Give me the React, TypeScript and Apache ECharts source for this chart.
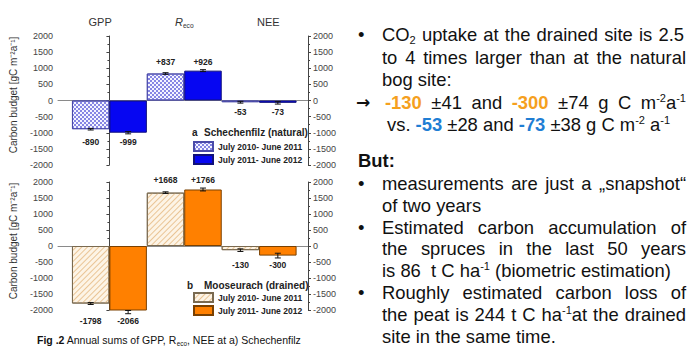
import React, { useEffect, useRef } from 'react';
import * as echarts from 'echarts';

// ---------------- data ----------------
const categories = ['GPP', 'Reco', 'NEE'];
const periodNames = ['July 2010- June 2011', 'July 2011- June 2012'];
const yTickMin = -2000;
const yTickMax = 2000;
const yTickStep = 500;

const naturalY1 = [-890, 837, -53];
const naturalY2 = [-999, 926, -73];
const naturalY1Err = [25, 25, 28];
const naturalY2Err = [35, 30, 38];

const drainedY1 = [-1798, 1668, -130];
const drainedY2 = [-2066, 1766, -300];
const drainedY1Err = [30, 25, 41];
const drainedY2Err = [50, 45, 74];

// ---------------- styles ----------------
const FONT = "'Liberation Sans', Arial, Helvetica, sans-serif";
const ORANGE = '#f5a01e';
const BLUE = '#1f7ed4';
const X_MIN = -0.687;
const X_MAX = 2.653;
const RIGHT_SIZE = 18.4;

let measureCtx: CanvasRenderingContext2D | null = null;
function measure(text: string, font: string): number {
  if (!measureCtx) measureCtx = document.createElement('canvas').getContext('2d');
  measureCtx!.font = font;
  return measureCtx!.measureText(text).width;
}

type Tok = { text: string; kind: string };
function parse(s: string): Tok[] {
  const out: Tok[] = [];
  let buf = '';
  for (let i = 0; i < s.length; i++) {
    const c = s[i];
    if ('^_OB*I'.includes(c) && s[i + 1] === '{') {
      if (buf) { out.push({ text: buf, kind: 'n' }); buf = ''; }
      const j = s.indexOf('}', i + 2);
      out.push({ text: s.slice(i + 2, j), kind: c });
      i = j;
    } else buf += c;
  }
  if (buf) out.push({ text: buf, kind: 'n' });
  return out;
}

function tokStyle(kind: string, base: number, bold: boolean, color: string) {
  let size = base, dy = 0, weight = bold ? 'bold' : 'normal', fill = color, fstyle = 'normal';
  if (kind === '^') { size = base * 0.6; dy = -base * 0.24; }
  if (kind === '_') { size = base * 0.6; dy = base * 0.3; }
  if (kind === 'O') { weight = 'bold'; fill = ORANGE; }
  if (kind === 'B') { weight = 'bold'; fill = BLUE; }
  if (kind === '*') weight = 'bold';
  if (kind === 'I') fstyle = 'italic';
  return { dy, fill, font: `${fstyle} ${weight} ${size}px ${FONT}` };
}

function textEl(text: string, x: number, y: number, font: string, fill: string) {
  return {
    type: 'text', x, y, silent: true,
    style: { text, font, fill, align: 'left', verticalAlign: 'middle', textAlign: 'left', textVerticalAlign: 'middle' },
  };
}

type LineSpec = { t: string; x: number; y: number; xe?: number; size?: number; bold?: boolean; color?: string };
function layoutLine(spec: LineSpec): any[] {
  const base = spec.size ?? RIGHT_SIZE;
  const color = spec.color ?? '#111';
  const bold = !!spec.bold;
  const toks = parse(spec.t);
  const els: any[] = [];
  if (spec.xe === undefined) {
    let x = spec.x;
    toks.forEach((tk) => {
      const st = tokStyle(tk.kind, base, bold, color);
      els.push(textEl(tk.text, x, spec.y + st.dy, st.font, st.fill));
      x += measure(tk.text, st.font);
    });
    return els;
  }
  // justified
  const words: Tok[][] = [];
  let cur: Tok[] = [];
  toks.forEach((tk) => {
    if (tk.kind !== 'n') { cur.push(tk); return; }
    const parts = tk.text.split(' ');
    parts.forEach((p, j) => {
      if (j > 0) { if (cur.length) words.push(cur); cur = []; }
      if (p) cur.push({ text: p, kind: 'n' });
    });
  });
  if (cur.length) words.push(cur);
  const widths = words.map((w) => w.reduce((s, tk) => s + measure(tk.text, tokStyle(tk.kind, base, bold, color).font), 0));
  const total = widths.reduce((a, b) => a + b, 0);
  const gap = words.length > 1 ? (spec.xe - spec.x - total) / (words.length - 1) : 0;
  let x = spec.x;
  words.forEach((w, wi) => {
    let xx = x;
    w.forEach((tk) => {
      const st = tokStyle(tk.kind, base, bold, color);
      els.push(textEl(tk.text, xx, spec.y + st.dy, st.font, st.fill));
      xx += measure(tk.text, st.font);
    });
    x += widths[wi] + gap;
  });
  return els;
}

const rightLines: LineSpec[] = [
  { t: 'CO_{2} uptake at the drained site is 2.5', x: 382, xe: 684, y: 34 },
  { t: 'to 4 times larger than at the natural', x: 382, xe: 686, y: 57 },
  { t: 'bog site:', x: 382, y: 79 },
  { t: 'O{-130} ±41 and O{-300} ±74 g C m^{-2}a^{-1}', x: 385, xe: 686, y: 102 },
  { t: 'vs. B{-53} ±28 and B{-73} ±38 g C m^{-2} a^{-1}', x: 387, y: 124 },
  { t: '*{But:}', x: 358, y: 160 },
  { t: 'measurements are just a „snapshot“', x: 382, xe: 686, y: 183 },
  { t: 'of two years', x: 382, y: 205 },
  { t: 'Estimated carbon accumulation of', x: 382, xe: 686, y: 227 },
  { t: 'the spruces in the last 50 years', x: 382, xe: 686, y: 248 },
  { t: 'is 86  t C ha^{-1} (biometric estimation)', x: 382, y: 270 },
  { t: 'Roughly estimated carbon loss of', x: 382, xe: 686, y: 292 },
  { t: 'the peat is 244 t C ha^{-1}at the drained', x: 382, xe: 686, y: 314 },
  { t: 'site in the same time.', x: 382, y: 336 },
];
const bulletYs = [34, 183, 227, 292];

const chartTexts: LineSpec[] = [
  { t: 'GPP', x: 88.5, y: 22, size: 11, color: '#333' },
  { t: 'I{R}_{eco}', x: 175, y: 22, size: 11, color: '#333' },
  { t: 'NEE', x: 257, y: 22, size: 11, color: '#333' },
  { t: 'a', x: 192, y: 132, size: 10, bold: true, color: '#222' },
  { t: 'Schechenfilz (natural)', x: 204, y: 132, size: 10, bold: true, color: '#222' },
  { t: 'b', x: 187, y: 285, size: 10, bold: true, color: '#222' },
  { t: 'Mooseurach (drained)', x: 204, y: 285, size: 10, bold: true, color: '#222' },
  { t: '*{Fig .2} Annual sums of GPP, R_{eco}, NEE at a) Schechenfilz', x: 37, y: 340, size: 10.5, color: '#111' },
];

const panels = [
  {
    key: 'a', top: 36, height: 129, legendTop: 141,
    v1: naturalY1, v2: naturalY2, e1: naturalY1Err, e2: naturalY2Err, axisNameY: 95,
    s1: {
      color: '#f4f4ff', borderColor: '#4a4aa8', borderWidth: 1,
      decal: { symbol: 'rect', symbolSize: 1, color: '#8686e4', dashArrayX: [[2, 2], [0, 2, 2, 0]], dashArrayY: [2, 0] },
    },
    s2: { color: '#0606f2', borderColor: '#10107a', borderWidth: 1 },
  },
  {
    key: 'b', top: 182, height: 128, legendTop: 292,
    v1: drainedY1, v2: drainedY2, e1: drainedY1Err, e2: drainedY2Err, axisNameY: 241,
    s1: {
      color: '#fdf4e6', borderColor: '#7a6a50', borderWidth: 1,
      decal: { symbol: 'rect', symbolSize: 1, color: '#eac596', dashArrayX: [1, 0], dashArrayY: [0.9, 2.4], rotation: -Math.PI / 4 },
    },
    s2: { color: '#ff8000', borderColor: '#7a4000', borderWidth: 1 },
  },
];

function errorRender(params: any, api: any) {
  const i = api.value(0);
  const children: any[] = [];
  const items = [[1, 2, -0.25], [3, 4, 0.25]];
  items.forEach(([vi, ei, off]) => {
    const v = api.value(vi), e = api.value(ei);
    const p1 = api.coord([i + off, v + e]);
    const p2 = api.coord([i + off, v - e]);
    const x = p1[0];
    const st = { stroke: '#111', lineWidth: 1 };
    children.push({ type: 'line', shape: { x1: x, y1: p1[1], x2: x, y2: p2[1] }, style: st });
    children.push({ type: 'line', shape: { x1: x - 3, y1: p1[1], x2: x + 3, y2: p1[1] }, style: st });
    children.push({ type: 'line', shape: { x1: x - 3, y1: p2[1], x2: x + 3, y2: p2[1] }, style: st });
  });
  const a = api.value(1), b = api.value(3);
  const ext = Math.abs(a) > Math.abs(b) ? a : b;
  const yExt = api.coord([i, ext])[1];
  const ly = ext > 0 ? yExt - 9 : yExt + 9;
  items.forEach(([vi, , off]) => {
    const v = api.value(vi);
    const x = api.coord([i + off, 0])[0];
    children.push({
      type: 'text',
      style: {
        text: (v > 0 ? '+' : '') + v, x, y: ly, font: `bold 8.5px ${FONT}`, fill: '#222',
        align: 'center', verticalAlign: 'middle', textAlign: 'center', textVerticalAlign: 'middle',
      },
    });
  });
  return { type: 'group', children };
}

function buildOption() {
  const grid = panels.map((p) => ({ left: 58, width: 250, top: p.top, height: p.height }));
  const xAxis = panels.map((p, k) => ({
    type: 'value', gridIndex: k, min: X_MIN, max: X_MAX,
    axisLine: { show: true, onZero: true, lineStyle: { color: '#8a8a8a', width: 1 } },
    axisTick: { show: false }, axisLabel: { show: false }, splitLine: { show: false },
  }));
  const yAxis: any[] = [];
  panels.forEach((p, k) => {
    ['left', 'right'].forEach((pos) => {
      yAxis.push({
        type: 'value', gridIndex: k, position: pos, min: yTickMin, max: yTickMax, interval: yTickStep,
        axisLine: { show: true, lineStyle: { color: '#444', width: 1 } },
        axisTick: { show: true, length: 3, lineStyle: { color: '#444' } },
        minorTick: { show: true, splitNumber: 2, length: 2, lineStyle: { color: '#444' } },
        axisLabel: { fontSize: 9, color: '#444', margin: 5, fontFamily: FONT, formatter: (v: number) => String(v) },
        splitLine: { show: false },
      });
    });
  });
  const series: any[] = [];
  panels.forEach((p, k) => {
    series.push({
      type: 'bar', name: p.key + '1', xAxisIndex: k, yAxisIndex: 2 * k,
      data: p.v1.map((v, i) => [i - 0.25, v]), barWidth: 37.5, barGap: '-100%', itemStyle: p.s1,
    });
    series.push({
      type: 'bar', name: p.key + '2', xAxisIndex: k, yAxisIndex: 2 * k,
      data: p.v2.map((v, i) => [i + 0.25, v]), barWidth: 37.5, barGap: '-100%', itemStyle: p.s2,
    });
    series.push({
      type: 'custom', name: p.key + 'err', xAxisIndex: k, yAxisIndex: 2 * k, clip: false, z: 5,
      encode: { x: 0, y: 1 },
      data: categories.map((c, i) => [i, p.v1[i], p.e1[i], p.v2[i], p.e2[i]]),
      renderItem: errorRender,
    });
  });
  const legend = panels.map((p) => ({
    data: [p.key + '1', p.key + '2'],
    formatter: (n: string) => periodNames[Number(n.slice(1)) - 1],
    orient: 'vertical', left: 193, top: p.legendTop, itemWidth: 19, itemHeight: 9, itemGap: 2,
    padding: 0, icon: 'rect', selectedMode: false,
    textStyle: { fontSize: 8.5, fontWeight: 'bold', color: '#222', fontFamily: FONT, lineHeight: 10 },
  }));
  const graphic: any[] = [];
  rightLines.forEach((l) => graphic.push(...layoutLine(l)));
  bulletYs.forEach((y) => graphic.push(textEl('•', 358, y, `${RIGHT_SIZE}px ${FONT}`, '#111')));
  graphic.push(textEl('→', 356, 102, `bold 17px 'DejaVu Sans', sans-serif`, '#111'));
  chartTexts.forEach((l) => graphic.push(...layoutLine(l)));
  panels.forEach((p) => {
    graphic.push({
      type: 'text', x: 13, y: p.axisNameY, rotation: Math.PI / 2, silent: true,
      style: {
        text: 'Carbon budget [gC m⁻²a⁻¹]', font: `10px ${FONT}`, fill: '#333',
        align: 'center', verticalAlign: 'middle', textAlign: 'center', textVerticalAlign: 'middle',
      },
    });
  });
  return { animation: false, backgroundColor: '#ffffff', grid, xAxis, yAxis, series, legend, graphic };
}

export default function App() {
  const ref = useRef<HTMLDivElement>(null);
  useEffect(() => {
    document.body.style.margin = '0';
    const chart = echarts.init(ref.current!, null, { renderer: 'svg' });
    chart.setOption(buildOption() as any);
    return () => chart.dispose();
  }, []);
  return <div ref={ref} style={{ width: 691, height: 347 }} />;
}
